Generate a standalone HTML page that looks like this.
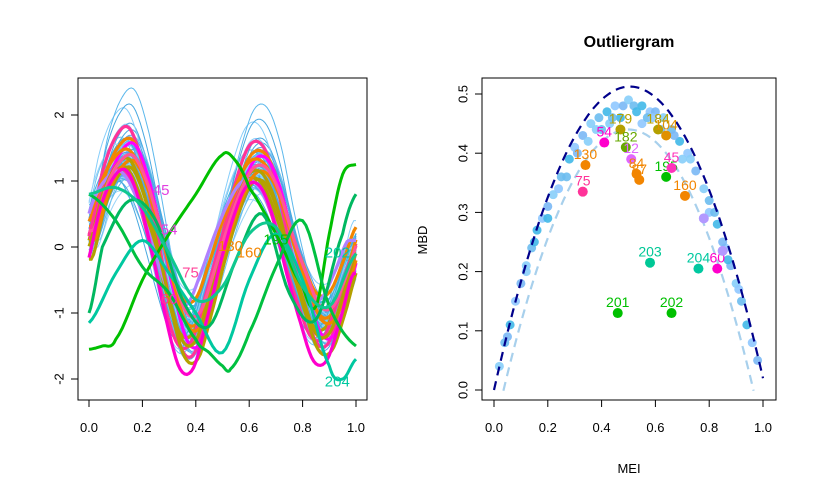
<!DOCTYPE html>
<html><head><meta charset="utf-8">
<style>
body{margin:0;background:#fff;}
svg{display:block;font-family:"Liberation Sans",Arial,sans-serif;}
</style></head>
<body>
<svg id="c" width="816" height="498" viewBox="0 0 816 498">
<rect width="816" height="498" fill="#fff"/>
<g id="left"></g>
<g id="right"></g>
</svg>
<script>
// ---------- Left panel data ----------
const baseX=[0,0.05,0.1,0.15,0.2,0.25,0.3,0.35,0.4,0.45,0.5,0.55,0.6,0.65,0.7,0.75,0.8,0.85,0.9,0.95,1.0];
const baseY=[0.1,0.8,1.2,1.3,0.9,0.2,-0.6,-1.2,-1.2,-0.6,0.1,0.7,1.1,1.1,0.7,0.0,-0.6,-1.1,-1.1,-0.6,0.0];
const thinAmp=[1,1.1,0.9,1.2,0.8,1.05,0.95,1.3,0.85,1.15,1,0.9,1.1,1.25,0.75,1,1.05,0.95,1.2,0.9,1.1,1,0.85,1.15,1.35,0.8,1,1.1,0.95,1.05,1.2,0.9,1,1.1,0.9,1.3,1.45,1.0,0.95,1.05,
 1.02,0.92,1.18,0.88,1.08,0.98,1.22,0.82,1.12,1.04,0.96,1.16,0.86,1.06,1.28,0.9,1.0,1.14,0.94,1.1,1.2,0.85,1.03,1.07,0.97,1.24,1.38,0.93,1.01,1.09];
const thinShift=[0,0.01,-0.01,0.02,-0.02,0.015,-0.015,0,0.03,-0.03,0.01,0.02,-0.02,0.005,0,-0.01,0.025,-0.025,0.01,0,0.02,-0.005,0.01,-0.02,0.015,0.03,-0.03,0,0.01,-0.01,0.02,0,-0.02,0.01,0.005,-0.01,0.02,0.04,-0.04,0,
 0.005,-0.005,0.012,-0.012,0.022,-0.022,0.008,-0.008,0.018,-0.018,0.0,0.028,-0.028,0.003,-0.003,0.015,-0.015,0.01,-0.01,0.035,-0.035,0.0,0.02,-0.02,0.006,-0.006,0.012,0.025,-0.025,0];
const thinOff=[0,0.1,-0.1,0.2,-0.2,0.05,-0.05,0.15,0,-0.15,0.25,0.1,-0.1,0,0.3,-0.25,0.05,0,-0.05,0.2,-0.2,0.1,0,0.15,0.1,-0.1,0.05,-0.3,0.2,0,-0.1,0.3,0.1,-0.05,0.05,0.4,0.5,0,-0.2,0.1,
 0.02,-0.08,0.12,-0.12,0.18,-0.18,0.06,-0.06,0.22,-0.22,0.0,0.14,-0.14,0.08,-0.04,0.26,-0.26,0.1,-0.1,0.04,-0.02,0.16,-0.16,0.0,0.12,-0.12,0.35,0.05,-0.05,0.0];
const thickAmp=[1.35,1.1,1.0,1.2,0.9,1.05,1.15,0.8,1.0,1.1,0.95,1.2];
const thickShift=[0,0.01,-0.01,0.02,0,-0.02,0.01,-0.03,0.02,0,0.015,-0.01];
const thickOff=[0.05,0.2,-0.1,0.0,0.3,-0.2,-0.3,0.1,0.0,-0.1,0.15,-0.4];
const thickColors=["#ff3399","#f28500","#b4a000","#ff00ff","#f28500","#ff3399","#b4a000","#b080ff","#f28500","#b4a000","#ff5599","#ff00cc"];
const outX=[
 [0,0.05,0.1,0.2,0.3,0.4,0.5,0.55,0.6,0.7,0.8,0.85,0.9,0.95,1],
 [0,0.1,0.2,0.3,0.4,0.45,0.5,0.53,0.6,0.7,0.8,0.9,1],
 [0,0.1,0.2,0.3,0.4,0.5,0.6,0.7,0.8,0.9,0.95,1],
 [0,0.05,0.15,0.25,0.35,0.45,0.55,0.65,0.75,0.85,0.95,1],
 [0,0.1,0.2,0.3,0.4,0.5,0.6,0.7,0.8,0.9,1]];
const outY=[
 [-1.55,-1.5,-1.4,-0.5,0.2,0.8,1.4,1.3,0.9,0.2,-0.6,-0.9,0.2,1.1,1.25],
 [0.8,0.4,-0.3,-0.7,-1.4,-1.6,-1.8,-1.85,-1.3,-0.3,0.4,-0.9,-1.5],
 [-1.15,-0.4,0.1,-0.4,-1.0,-1.6,-0.5,0.2,-0.5,-1.8,-2.0,-1.7],
 [-1.0,0.0,0.7,0.4,-0.8,-1.2,-0.2,0.5,-0.7,-1.1,0.2,0.8],
 [0.8,0.9,0.6,-0.1,-0.8,-0.6,0.2,0.3,-0.6,-0.9,-0.1]];
const outColors=["#00c000","#00c040","#00c8a0","#00b860","#10c890"];
const leftLabels=["45","54","75","60","130","160","195","202","204"];
const leftLabX=[0.27,0.3,0.38,0.3,0.53,0.6,0.7,0.93,0.93];
const leftLabY=[0.85,0.25,-0.4,-0.8,0.0,-0.1,0.1,-0.1,-2.05];
const leftLabC=["#e040e0","#e040e0","#ff4499","#ff3399","#f28500","#f28500","#00c000","#00c8a0","#00c8a0"];
const leftYTicks=[-2,-1,0,1,2];
const leftXTicks=[0,0.2,0.4,0.6,0.8,1.0];

// ---------- Right panel data ----------
const ptMEI=[0.02,0.04,0.06,0.08,0.1,0.12,0.14,0.16,0.18,0.2,0.22,0.25,0.28,0.3,0.33,0.36,0.39,0.42,0.45,0.48,0.5,0.52,0.55,0.58,0.6,0.63,0.66,0.69,0.72,0.75,0.78,0.8,0.83,0.86,0.88,0.9,0.92,0.94,0.96,0.98,0.35,0.4,0.47,0.55,0.62,0.7,0.27,0.2,0.8,0.85,0.43,0.57,0.15,0.24,0.31,0.38,0.44,0.53,0.59,0.67,0.73,0.82,0.87,0.91,0.05,0.12];
const ptMBD=[0.04,0.08,0.11,0.15,0.18,0.21,0.24,0.27,0.29,0.31,0.33,0.36,0.39,0.41,0.43,0.45,0.46,0.47,0.48,0.48,0.49,0.48,0.48,0.47,0.47,0.46,0.44,0.42,0.40,0.37,0.34,0.32,0.28,0.24,0.21,0.18,0.15,0.11,0.08,0.05,0.42,0.44,0.46,0.45,0.44,0.39,0.36,0.29,0.30,0.25,0.45,0.46,0.25,0.34,0.40,0.44,0.46,0.47,0.46,0.43,0.39,0.30,0.22,0.17,0.09,0.20];
const outMEI=[0.46,0.66,0.58,0.76,0.83,0.33,0.34,0.41,0.47,0.49,0.51,0.53,0.54,0.64,0.66,0.71,0.61,0.64,0.78,0.85];
const outMBD=[0.13,0.13,0.215,0.205,0.205,0.335,0.38,0.418,0.44,0.41,0.39,0.365,0.355,0.36,0.375,0.328,0.44,0.43,0.29,0.235];
const outLab=["201","202","203","204","60","75","130","54","179","182","12","84","87","195","45","160","184","104","",""];
const outCol=["#00c000","#00c000","#00c896","#00c8a0","#ff00cc","#ff3399","#f28500","#ff00cc","#b4a000","#66a800","#e066ff","#f28500","#f28500","#00c000","#ff33bb","#f28500","#b4a000","#e09000","#b399ff","#b399ff"];
const rightYTicks=[0,0.1,0.2,0.3,0.4,0.5];
const rightXTicks=[0,0.2,0.4,0.6,0.8,1.0];

const NS="http://www.w3.org/2000/svg";
function mk(tag,attrs,parent){const e=document.createElementNS(NS,tag);for(const k in attrs)e.setAttribute(k,attrs[k]);parent.appendChild(e);return e;}
const lx=v=>89+v*267, ly=v=>247-v*66;
const rx=v=>494+v*269, ry=v=>390-v*592;
const L=document.getElementById('left'), R=document.getElementById('right');
// Catmull-Rom interpolation of base curve
function baseAt(x){x=Math.max(0,Math.min(1,x));const n=baseX.length;let i=Math.min(n-2,Math.floor(x/0.05));const t=(x-baseX[i])/(baseX[i+1]-baseX[i]);
 const p0=baseY[Math.max(0,i-1)],p1=baseY[i],p2=baseY[i+1],p3=baseY[Math.min(n-1,i+2)];
 return 0.5*((2*p1)+(-p0+p2)*t+(2*p0-5*p1+4*p2-p3)*t*t+(-p0+3*p1-3*p2+p3)*t*t*t);}
function curvePath(a,s,o){let d="";for(let k=0;k<=120;k++){const x=k/120;const y=o+a*baseAt(x-s);d+=(k?"L":"M")+lx(x).toFixed(1)+" "+ly(y).toFixed(1);}return d;}
function smoothPath(xs,ys,f){let d="";const n=xs.length;
 for(let i=0;i<n-1;i++){const p0=ys[Math.max(0,i-1)],p1=ys[i],p2=ys[i+1],p3=ys[Math.min(n-1,i+2)];
  for(let k=0;k<8;k++){const t=k/8;const y=0.5*((2*p1)+(-p0+p2)*t+(2*p0-5*p1+4*p2-p3)*t*t+(-p0+3*p1-3*p2+p3)*t*t*t);const x=xs[i]+t*(xs[i+1]-xs[i]);
   d+=(d?"L":"M")+lx(x).toFixed(1)+" "+ly(y).toFixed(1);}}
 d+="L"+lx(xs[n-1]).toFixed(1)+" "+ly(ys[n-1]).toFixed(1);return d;}
const thinCols=["#87cefa","#5cb8ec","#6fc3f0","#48a8e0","#9ad4f8","#3fb0e0","#5aa0e8"];
for(let i=0;i<thinAmp.length;i++){
 const p=mk('path',{d:curvePath(thinAmp[i],thinShift[i],thinOff[i]),fill:"none",stroke:thinCols[i%thinCols.length],"stroke-width":1},L);
 
 
}
for(let i=0;i<thickAmp.length;i++){
 const p=mk('path',{d:curvePath(thickAmp[i],thickShift[i],thickOff[i]),fill:"none",stroke:thickColors[i],"stroke-width":3.2},L);
 
 
}
for(let i=0;i<outX.length;i++){
 const p=mk('path',{d:smoothPath(outX[i],outY[i]),fill:"none",stroke:outColors[i],"stroke-width":3,"stroke-linejoin":"round"},L);
 
 
}
for(let i=0;i<leftLabels.length;i++){
 const t=mk('text',{x:lx(leftLabX[i]),y:ly(leftLabY[i]),fill:leftLabC[i],"font-size":15,"text-anchor":"middle","dominant-baseline":"middle"},L);
 t.textContent=leftLabels[i];
 
 
}
mk('rect',{x:78,y:78,width:289,height:322,fill:"none",stroke:"#000"},L);
leftXTicks.forEach(v=>{mk('line',{x1:lx(v),x2:lx(v),y1:400,y2:407,stroke:"#000"},L);
 const t=mk('text',{x:lx(v),y:432,"font-size":13,"text-anchor":"middle"},L);t.textContent=v.toFixed(1);
 
 });
leftYTicks.forEach(v=>{mk('line',{x1:71,x2:78,y1:ly(v),y2:ly(v),stroke:"#000"},L);
 const t=mk('text',{x:60,y:ly(v),"font-size":13,"text-anchor":"middle",transform:`rotate(-90 60 ${ly(v)})`,"dominant-baseline":"middle"},L);t.textContent=v;
 
 });

// right panel
function parab(x,a,b,c){return a+b*x+c*x*x;}
let d1="",d2="";
for(let k=0;k<=100;k++){const x=k/100;
 d1+=(k?"L":"M")+rx(x).toFixed(1)+" "+ry(parab(x,0,2.03,-2.01)).toFixed(1);}
for(let k=0;k<=100;k++){const x=0.035+k/100*0.93;
 d2+=(k?"L":"M")+rx(x).toFixed(1)+" "+ry(parab(x,-0.07,2.04,-2.04)).toFixed(1);}
const pl=mk('path',{d:d2,fill:"none",stroke:"#a8d0ec","stroke-width":2.2,"stroke-dasharray":"9 6"},R);


const ptCols=["#87cefa","#6cbcf0","#40b8e8","#8fc8ff","#7ab8f5"];
for(let i=0;i<ptMEI.length;i++){
 const c=mk('circle',{cx:rx(ptMEI[i]),cy:ry(ptMBD[i]),r:4.5,fill:ptCols[i%ptCols.length],"fill-opacity":0.9},R);
 
 
}
const pu=mk('path',{d:d1,fill:"none",stroke:"#00008b","stroke-width":2.2,"stroke-dasharray":"9 6"},R);


for(let i=0;i<outMEI.length;i++){
 const c=mk('circle',{cx:rx(outMEI[i]),cy:ry(outMBD[i]),r:5,fill:outCol[i]},R);
 
 
 if(outLab[i]){const t=mk('text',{x:rx(outMEI[i]),y:ry(outMBD[i])-6,fill:outCol[i],"font-size":14,"text-anchor":"middle"},R);t.textContent=outLab[i];
 
 }
}
mk('rect',{x:482,y:78,width:294,height:322,fill:"none",stroke:"#000"},R);
rightXTicks.forEach(v=>{mk('line',{x1:rx(v),x2:rx(v),y1:400,y2:407,stroke:"#000"},R);
 const t=mk('text',{x:rx(v),y:432,"font-size":13,"text-anchor":"middle"},R);t.textContent=v.toFixed(1);
 
 });
rightYTicks.forEach(v=>{mk('line',{x1:475,x2:482,y1:ry(v),y2:ry(v),stroke:"#000"},R);
 const t=mk('text',{x:464,y:ry(v),"font-size":13,"text-anchor":"middle",transform:`rotate(-90 464 ${ry(v)})`,"dominant-baseline":"middle"},R);t.textContent=v.toFixed(1);
 
 });
let t=mk('text',{x:629,y:47,"font-size":16,"font-weight":"bold","text-anchor":"middle"},R);t.textContent="Outliergram";


t=mk('text',{x:629,y:473,"font-size":13,"text-anchor":"middle"},R);t.textContent="MEI";


t=mk('text',{x:427,y:240,"font-size":13,"text-anchor":"middle",transform:"rotate(-90 427 240)"},R);t.textContent="MBD";


</script>
</body></html>
